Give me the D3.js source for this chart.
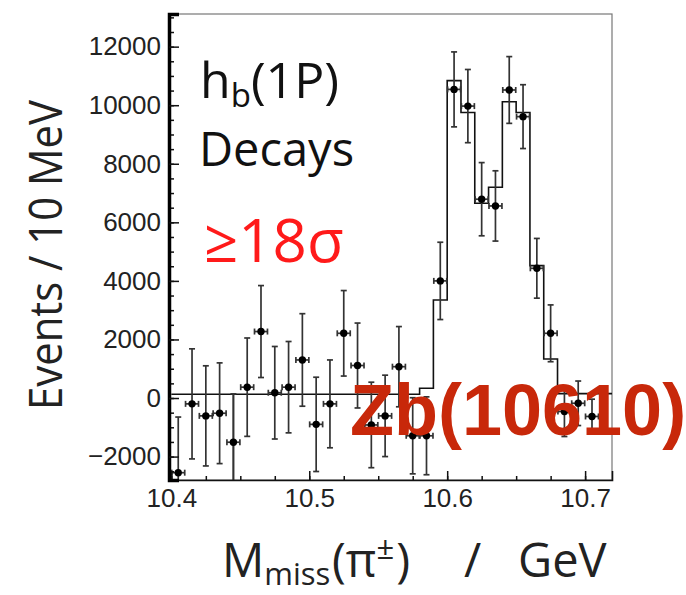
<!DOCTYPE html>
<html>
<head>
<meta charset="utf-8">
<script src="https://cdn.jsdelivr.net/npm/d3@7"></script>
<style>
  body { margin: 0; background: #fff; }
  .tick text { font-family: "Liberation Sans", Arial, sans-serif; font-size: 26px; fill: #222; }
</style>
</head>
<body>
<div id="chart"></div>
<script>
// bin centres (GeV), events per 10 MeV and errors
var massBins = [10.405, 10.415, 10.425, 10.435, 10.445, 10.455, 10.465, 10.475, 10.485, 10.495,
  10.505, 10.515, 10.525, 10.535, 10.545, 10.555, 10.565, 10.575, 10.585, 10.595,
  10.605, 10.615, 10.625, 10.635, 10.645, 10.655, 10.665, 10.675, 10.685, 10.695, 10.705];
var events = [-2550, -200, -610, -520, -1510, 370, 2270, 180, 370, 1300,
  -900, -200, 2210, 1110, -920, -610, 1070, -1290, -1290, 4000,
  10540, 9970, 6790, 6560, 10520, 9610, 4430, 2210, -460, -180, -630];
var errors = [1900, 1880, 1710, 1720, 1650, 1680, 1570, 1580, 1560, 1580,
  1610, 1500, 1460, 1450, 1460, 1390, 1370, 1300, 1330, 1320,
  1280, 1250, 1250, 1200, 1140, 1090, 1020, 970, 855, 760, 590];

// fit histogram: lower bin edges and contents
var fitEdges = [10.40, 10.41, 10.42, 10.43, 10.44, 10.45, 10.46, 10.47, 10.48, 10.49,
  10.50, 10.51, 10.52, 10.53, 10.54, 10.55, 10.56, 10.57, 10.58, 10.59,
  10.60, 10.61, 10.62, 10.63, 10.64, 10.65, 10.66, 10.67, 10.68, 10.69,
  10.70, 10.71, 10.72];
var fitValues = [130, 130, 130, 130, 130, 130, 130, 130, 130, 130,
  130, 130, 130, 130, 130, 130, 130, 130, 335, 3350,
  10840, 9750, 6650, 7200, 10120, 9750, 4520, 1330, 150, 150,
  150, 150, 150];
var fitStart = 10.445;

var xTicks = [10.4, 10.5, 10.6, 10.7];
var yTicks = [-2000, 0, 2000, 4000, 6000, 8000, 10000, 12000];

var svgWidth = 686;
var svgHeight = 595;
var margin = { top: 14, right: 74, bottom: 115, left: 169 };
var width = svgWidth - margin.left - margin.right;
var height = svgHeight - margin.top - margin.bottom;

var svg = d3.select("#chart")
  .append("svg")
  .attr("width", svgWidth)
  .attr("height", svgHeight);

var chartGroup = svg.append("g")
  .attr("transform", `translate(${margin.left}, ${margin.top})`);

var xScale = d3.scaleLinear()
  .domain([10.3983, 10.7195])
  .range([0, width]);

var yScale = d3.scaleLinear()
  .domain([-2800, 13115])
  .range([height, 0]);

svg.append("defs").append("clipPath")
  .attr("id", "frame")
  .append("rect")
  .attr("width", width)
  .attr("height", height);

// frame
chartGroup.append("rect")
  .attr("width", width)
  .attr("height", height)
  .attr("fill", "none")
  .attr("stroke", "#777")
  .attr("stroke-width", 1.2);

var plot = chartGroup.append("g").attr("clip-path", "url(#frame)");

// fit histogram
var histPts = fitEdges.map((e, i) => [e, fitValues[i]]);
var histLine = d3.line()
  .x(d => xScale(d[0]))
  .y(d => yScale(d[1]))
  .curve(d3.curveStepAfter);

plot.append("path")
  .attr("d", histLine(histPts))
  .attr("fill", "none")
  .attr("stroke", "#111")
  .attr("stroke-width", 1.6);

plot.append("line")
  .attr("x1", xScale(fitStart)).attr("x2", xScale(fitStart))
  .attr("y1", yScale(fitValues[4])).attr("y2", height)
  .attr("stroke", "#111")
  .attr("stroke-width", 1.6);

// data points with error bars
var pts = massBins.map((m, i) => ({ m: m, v: events[i], e: errors[i] }));
var halfBin = 0.0047;
var cap = 3;

var pg = plot.selectAll("g.pt")
  .data(pts)
  .enter()
  .append("g")
  .attr("class", "pt")
  .attr("stroke", "#333")
  .attr("stroke-width", 1.7);

pg.append("line")
  .attr("x1", d => xScale(d.m)).attr("x2", d => xScale(d.m))
  .attr("y1", d => yScale(d.v + d.e)).attr("y2", d => yScale(d.v - d.e));
pg.append("line")
  .attr("x1", d => xScale(d.m) - cap).attr("x2", d => xScale(d.m) + cap)
  .attr("y1", d => yScale(d.v + d.e)).attr("y2", d => yScale(d.v + d.e));
pg.append("line")
  .attr("x1", d => xScale(d.m) - cap).attr("x2", d => xScale(d.m) + cap)
  .attr("y1", d => yScale(d.v - d.e)).attr("y2", d => yScale(d.v - d.e));
pg.append("line")
  .attr("x1", d => xScale(d.m - halfBin)).attr("x2", d => xScale(d.m + halfBin))
  .attr("y1", d => yScale(d.v)).attr("y2", d => yScale(d.v));
pg.append("line")
  .attr("x1", d => xScale(d.m - halfBin)).attr("x2", d => xScale(d.m - halfBin))
  .attr("y1", d => yScale(d.v) - cap).attr("y2", d => yScale(d.v) + cap);
pg.append("line")
  .attr("x1", d => xScale(d.m + halfBin)).attr("x2", d => xScale(d.m + halfBin))
  .attr("y1", d => yScale(d.v) - cap).attr("y2", d => yScale(d.v) + cap);
pg.append("circle")
  .attr("cx", d => xScale(d.m))
  .attr("cy", d => yScale(d.v))
  .attr("r", 3.7)
  .attr("fill", "#000")
  .attr("stroke", "none");

// axes (ticks inside the frame)
var minorX = d3.range(10.4, 10.72, 0.025);
var minorY = d3.range(-2500, 13100, 500);

var xMinor = chartGroup.append("g")
  .attr("transform", `translate(0, ${height})`)
  .call(d3.axisBottom(xScale).tickValues(minorX).tickSize(-4).tickFormat(""));
var xAxis = chartGroup.append("g")
  .attr("transform", `translate(0, ${height})`)
  .call(d3.axisBottom(xScale).tickValues(xTicks).tickSize(-9).tickPadding(9).tickFormat(d3.format(".1f")));

var yMinor = chartGroup.append("g")
  .call(d3.axisLeft(yScale).tickValues(minorY).tickSize(-5).tickFormat(""));
var yAxis = chartGroup.append("g")
  .call(d3.axisLeft(yScale).tickValues(yTicks).tickSize(-10).tickPadding(8).tickFormat(d3.format("d")));

[xMinor, xAxis, yMinor, yAxis].forEach(function(a) {
  a.selectAll(".tick line").attr("stroke", "#111").attr("stroke-width", 1.5);
});
xMinor.select(".domain").remove();
yMinor.select(".domain").remove();
xAxis.select(".domain").attr("stroke", "#111").attr("stroke-width", 1.6);
yAxis.select(".domain").attr("stroke", "#000").attr("stroke-width", 3.5);

// axis titles
svg.append("text")
  .attr("transform", "translate(62, 255) rotate(-90)")
  .attr("text-anchor", "middle")
  .attr("textLength", 310)
  .attr("lengthAdjust", "spacingAndGlyphs")
  .style("font-family", "'Open Sans', sans-serif")
  .style("font-size", "45px")
  .attr("fill", "#222")
  .text("Events / 10 MeV");

var xt = svg.append("text")
  .attr("x", 222)
  .attr("y", 577)
  .style("font-family", "'Open Sans', sans-serif")
  .style("font-size", "47px")
  .attr("fill", "#222");
xt.append("tspan").text("M");
xt.append("tspan").attr("dy", 8).style("font-size", "31px").text("miss");
xt.append("tspan").attr("dy", -8).attr("x", 332).text("(π");
xt.append("tspan").attr("dy", -18).style("font-size", "31px").text("±");
xt.append("tspan").attr("dy", 18).attr("dx", 2).text(")");
xt.append("tspan").attr("x", 464).text("/");
xt.append("tspan").attr("x", 518).text("GeV");

// annotations
var note = chartGroup.append("g")
  .style("font-family", "'Open Sans', sans-serif")
  .attr("fill", "#111");
var hb = note.append("text")
  .attr("x", 31)
  .attr("y", 84)
  .style("font-size", "50px");
hb.append("tspan").text("h");
hb.append("tspan").attr("dy", 9).style("font-size", "33px").text("b");
hb.append("tspan").attr("dy", -9).text("(1P)");

note.append("text")
  .attr("x", 30)
  .attr("y", 152)
  .style("font-size", "47px")
  .text("Decays");

chartGroup.append("text")
  .attr("x", 35)
  .attr("y", 248)
  .style("font-family", "'Open Sans', sans-serif")
  .style("font-size", "60px")
  .attr("fill", "#ff1a1a")
  .text("≥18σ");

svg.append("text")
  .attr("x", 350)
  .attr("y", 435)
  .style("font-family", "'Liberation Sans', Arial, sans-serif")
  .style("font-weight", "bold")
  .style("font-size", "72px")
  .attr("fill", "#c8280a")
  .text("Zb(10610)");
</script>
</body>
</html>
